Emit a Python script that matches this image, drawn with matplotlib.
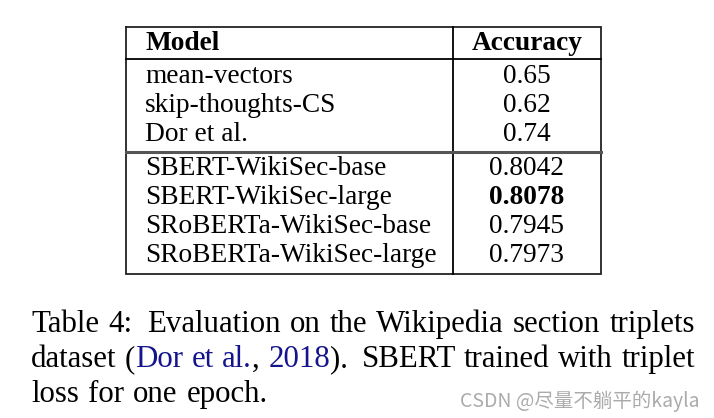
import matplotlib
matplotlib.use('Agg')
import matplotlib.pyplot as plt

# table data
header = ['Model', 'Accuracy']
models = ['mean-vectors', 'skip-thoughts-CS', 'Dor et al.',
          'SBERT-WikiSec-base', 'SBERT-WikiSec-large',
          'SRoBERTa-WikiSec-base', 'SRoBERTa-WikiSec-large']
accuracy = ['0.65', '0.62', '0.74', '0.8042', '0.8078', '0.7945', '0.7973']
best = '0.8078'

# caption words, each word is a list of (text, colour) pieces
BLUE = '#14148c'
caption = [
   [[('Table', 'k')], [('4:', 'k')], [('Evaluation', 'k')], [('on', 'k')], [('the', 'k')],
    [('Wikipedia', 'k')], [('section', 'k')], [('triplets', 'k')]],
   [[('dataset', 'k')], [('(', 'k'), ('Dor', BLUE)], [('et', BLUE)], [('al.', BLUE), (',', 'k')],
    [('2018', BLUE), (').', 'k')], [('SBERT', 'k')], [('trained', 'k')], [('with', 'k')],
    [('triplet', 'k')]],
   [[('loss', 'k')], [('for', 'k')], [('one', 'k')], [('epoch.', 'k')]],
]
watermark = 'CSDN @尽量不躺平的kayla'

W, H = 714, 418
fig = plt.figure(figsize=(W/100, H/100), dpi=100)
ax = fig.add_axes([0, 0, 1, 1])
ax.set_xlim(0, W)
ax.set_ylim(H, 0)
ax.axis('off')

serif = 'Liberation Serif'
fs_tab = 19.7
fs_cap = 22.2

## Table ########################################################################
x0, x1, xdiv = 126, 601, 453
ytop, ybot, yhead, ymid = 27, 274, 59, 152
lw = 1.3
ax.plot([x0, x1, x1, x0, x0], [ytop, ytop, ybot, ybot, ytop], color='#222222', lw=lw,
        solid_joinstyle='miter')
ax.plot([xdiv, xdiv], [ytop, ybot], color='k', lw=lw)
ax.plot([x0, x1], [yhead, yhead], color='k', lw=lw)
ax.plot([x0, x1], [ymid, ymid], color='#555555', lw=2.2)

xtxt = 145
xacc = (xdiv + x1) / 2
ax.text(xtxt, 50, header[0], fontsize=fs_tab, family=serif, weight='bold', va='baseline')
ax.text(xacc, 50, header[1], fontsize=fs_tab, family=serif, weight='bold', va='baseline',
        ha='center')
base = [83, 112, 141, 175, 204, 233, 262]
for b, m, a in zip(base, models, accuracy):
   ax.text(xtxt, b, m, fontsize=fs_tab, family=serif, va='baseline')
   ax.text(xacc, b, a, fontsize=fs_tab, family=serif, va='baseline', ha='center',
           weight='bold' if a == best else 'normal')

## Caption (justified) ##########################################################
fig.canvas.draw()
r = fig.canvas.get_renderer()

def width(t):
   return t.get_window_extent(r).width

cx0, cx1 = 31, 695
cap_base = [332, 367, 402]
for i, (line, b) in enumerate(zip(caption, cap_base)):
   words = []
   for w in line:
      parts = []
      for s, c in w:
         t = ax.text(0, b, s, fontsize=fs_cap, family=serif, va='baseline', color=c)
         parts.append((t, width(t)))
      words.append(parts)
   wsum = [sum(p[1] for p in w) for w in words]
   # wider space after a colon or a full stop (LaTeX sentence spacing)
   wts = [1.6 if w[-1][0].get_text()[-1] in ':.' else 1.0 for w in words[:-1]]
   if i == len(caption) - 1:
      unit = 9
   else:
      unit = (cx1 - cx0 - sum(wsum)) / sum(wts)
   x = cx0
   for k, (w, ww) in enumerate(zip(words, wsum)):
      xx = x
      for t, pw in w:
         t.set_x(xx)
         xx += pw
      if k < len(wts):
         x += ww + unit * wts[k]

ax.text(700, 407, watermark, fontsize=14, family=['Noto Sans CJK SC', 'DejaVu Sans'],
        color='#ababab', ha='right', va='baseline')

fig.savefig('out.png', dpi=100)
